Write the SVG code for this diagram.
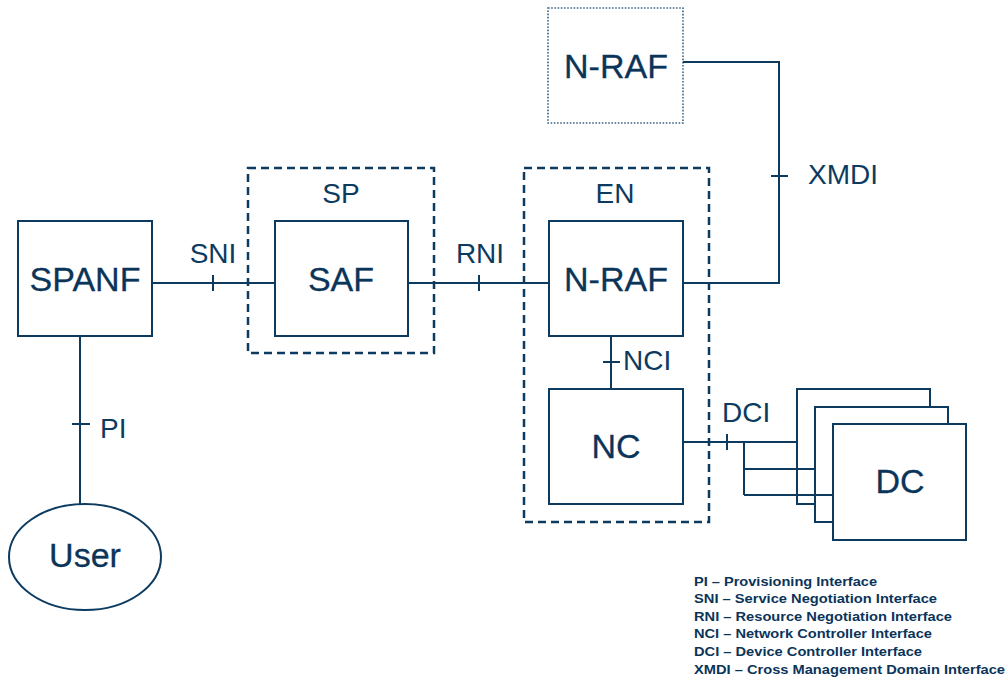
<svg xmlns="http://www.w3.org/2000/svg" width="1008" height="677" viewBox="0 0 1008 677">
<style>
.box{fill:#fff;stroke:#0d3b60;stroke-width:2}
.grp{fill:none;stroke:#0d3b60;stroke-width:2.5;stroke-dasharray:8 5}
.dot{fill:#fff;stroke:#3a6385;stroke-width:1.6;stroke-dasharray:1.6 1.6}
.ln{fill:none;stroke:#0d3b60;stroke-width:2}
.big{font-family:"Liberation Sans",Arial,sans-serif;font-size:34px;fill:#0b3459;text-anchor:middle;stroke:#0b3459;stroke-width:0.3}
.lbl{font-family:"Liberation Sans",Arial,sans-serif;font-size:28px;fill:#0d3b60}
.leg{font-family:"Liberation Sans",Arial,sans-serif;font-size:13px;font-weight:bold;fill:#0b3459}
</style>
<rect width="1008" height="677" fill="#fff"/>
<g id="SP">
<rect class="grp" x="248" y="168" width="186" height="185"/>
<text class="lbl" x="341" y="203" text-anchor="middle">SP</text>
</g>
<g id="EN">
<rect class="grp" x="524" y="168" width="185" height="354"/>
<text class="lbl" x="615" y="203" text-anchor="middle">EN</text>
</g>
<g id="SPANF">
<rect class="box" x="18" y="221" width="134" height="115"/>
<text class="big" x="85" y="291">SPANF</text>
</g>
<g id="SAF">
<rect class="box" x="275" y="221" width="133" height="115"/>
<text class="big" x="341" y="291">SAF</text>
</g>
<g id="NRAF">
<rect class="box" x="549" y="221" width="134" height="115"/>
<text class="big" x="616" y="291">N-RAF</text>
</g>
<g id="NRAF_remote">
<rect class="dot" x="548" y="8" width="135" height="115"/>
<text class="big" x="616" y="78">N-RAF</text>
</g>
<g id="NC">
<rect class="box" x="549" y="389" width="134" height="115"/>
<text class="big" x="616" y="458">NC</text>
</g>
<g id="User">
<ellipse class="box" cx="85" cy="557" rx="76" ry="53"/>
<text class="big" x="85" y="567">User</text>
</g>
<g id="DC">
<rect class="box" x="797" y="389" width="133" height="115"/>
<rect class="box" x="815" y="407" width="133" height="115"/>
<rect class="box" x="833" y="424" width="133" height="116"/>
<text class="big" x="900" y="493">DC</text>
</g>
<g id="connectors">
<path class="ln" d="M152 283H275M213 275V291"/>
<path class="ln" d="M408 283H549M479 275V291"/>
<path class="ln" d="M683 62H779V283H683M771 176H788"/>
<path class="ln" d="M611 336V389M603 362H620"/>
<path class="ln" d="M80 336V504M72 424H90"/>
<path class="ln" d="M683 442H797M727 434V450M744 442V495M744 469H815M744 495H833"/>
</g>
<g id="labels">
<text class="lbl" x="213" y="263" text-anchor="middle">SNI</text>
<text class="lbl" x="480" y="263" text-anchor="middle">RNI</text>
<text class="lbl" x="808" y="184">XMDI</text>
<text class="lbl" x="623" y="370">NCI</text>
<text class="lbl" x="722" y="422">DCI</text>
<text class="lbl" x="100" y="438">PI</text>
</g>
<g id="legend">
<text class="leg" x="694" y="586" textLength="183" lengthAdjust="spacingAndGlyphs">PI – Provisioning Interface</text>
<text class="leg" x="694" y="603" textLength="243" lengthAdjust="spacingAndGlyphs">SNI – Service Negotiation Interface</text>
<text class="leg" x="694" y="621" textLength="258" lengthAdjust="spacingAndGlyphs">RNI – Resource Negotiation Interface</text>
<text class="leg" x="694" y="638" textLength="238" lengthAdjust="spacingAndGlyphs">NCI – Network Controller Interface</text>
<text class="leg" x="694" y="656" textLength="228" lengthAdjust="spacingAndGlyphs">DCI – Device Controller Interface</text>
<text class="leg" x="694" y="674" textLength="311" lengthAdjust="spacingAndGlyphs">XMDI – Cross Management Domain Interface</text>
</g>
</svg>
